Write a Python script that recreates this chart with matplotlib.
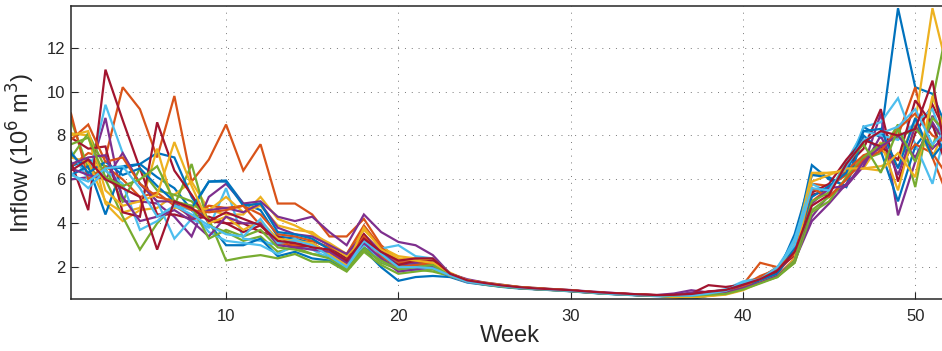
import numpy as np
import matplotlib
matplotlib.use("Agg")
import matplotlib.pyplot as plt

plt.rcParams['font.family'] = ['Liberation Sans', 'DejaVu Sans']

# weekly inflow per year (10^6 m^3)
weeks = np.arange(1, 53)

s01 = [6.6, 6.9, 6.6, 6.5, 6.7, 6.1, 5.6, 4.6, 5.9, 5.95, 4.9, 4.6, 3.4, 3.3, 3.1, 2.6, 2.1, 2.9, 2.4, 1.9,
       2.0, 2.0, 1.6, 1.35, 1.22, 1.12, 1.05, 1.0, 0.97, 0.92, 0.86, 0.8, 0.77, 0.72, 0.7, 0.68, 0.62, 0.82, 0.88, 1.15,
       1.35, 1.75, 3.0, 6.65, 6.0, 5.7, 8.4, 7.9, 13.8, 10.2, 9.9, 8.0]
s02 = [6.6, 7.2, 7.0, 10.2, 9.2, 7.0, 9.8, 5.9, 6.9, 8.5, 6.4, 7.6, 4.9, 4.9, 4.4, 3.4, 3.4, 4.2, 3.0, 2.3,
       2.3, 2.3, 1.7, 1.4, 1.28, 1.18, 1.1, 1.03, 0.99, 0.95, 0.88, 0.82, 0.79, 0.75, 0.72, 0.7, 0.72, 0.78, 0.88, 1.2,
       2.2, 2.0, 2.5, 5.8, 5.7, 6.2, 7.0, 7.6, 8.0, 10.2, 7.0, 5.0]
s03 = [8.1, 8.0, 4.9, 4.1, 4.6, 4.7, 5.3, 5.9, 4.6, 4.4, 4.4, 5.2, 4.2, 3.9, 3.5, 3.1, 2.6, 3.7, 2.9, 2.5,
       2.4, 2.3, 1.75, 1.4, 1.3, 1.2, 1.1, 1.05, 1.0, 0.95, 0.88, 0.82, 0.78, 0.75, 0.7, 0.62, 0.6, 0.7, 0.78, 0.98,
       1.4, 1.9, 2.9, 6.2, 6.3, 6.3, 6.5, 6.6, 6.9, 8.6, 13.8, 10.6]
s04 = [6.0, 6.1, 8.8, 5.0, 5.0, 4.9, 4.3, 3.4, 5.2, 5.8, 4.9, 5.0, 4.3, 4.1, 4.3, 3.6, 3.0, 4.4, 3.6, 3.15,
       3.0, 2.55, 1.7, 1.45, 1.3, 1.2, 1.1, 1.05, 1.0, 0.96, 0.9, 0.85, 0.8, 0.76, 0.73, 0.8, 0.95, 0.85, 0.88, 1.05,
       1.3, 1.6, 2.4, 4.3, 5.3, 5.7, 6.6, 9.0, 4.36, 6.8, 8.9, 7.6]
s05 = [8.7, 6.5, 6.0, 4.3, 2.8, 4.0, 4.8, 6.7, 3.9, 3.6, 3.2, 3.4, 2.7, 2.9, 2.6, 2.5, 2.0, 2.9, 2.2, 1.9,
       1.9, 1.8, 1.6, 1.35, 1.2, 1.12, 1.05, 1.0, 0.96, 0.92, 0.86, 0.8, 0.77, 0.73, 0.7, 0.7, 0.72, 0.8, 0.82, 1.05,
       1.3, 1.6, 2.2, 4.6, 5.2, 6.0, 6.9, 7.2, 8.5, 5.65, 9.6, 13.5]
s06 = [7.3, 6.0, 9.4, 7.2, 5.8, 5.0, 3.3, 4.2, 3.8, 5.6, 3.3, 3.2, 3.0, 3.3, 2.9, 2.6, 2.2, 3.0, 2.85, 3.0,
       2.5, 2.4, 1.7, 1.4, 1.25, 1.15, 1.07, 1.02, 0.97, 0.93, 0.87, 0.81, 0.77, 0.73, 0.71, 0.7, 0.75, 0.85, 1.0, 1.35,
       1.5, 2.0, 3.2, 5.5, 5.6, 6.4, 8.4, 8.6, 9.7, 7.6, 5.8, 9.0]
s07 = [6.8, 4.6, 11.0, 8.7, 6.5, 4.4, 4.4, 4.2, 4.3, 4.0, 4.0, 3.6, 3.4, 3.0, 3.2, 2.9, 2.4, 3.3, 2.6, 2.2,
       2.2, 2.3, 1.65, 1.38, 1.26, 1.16, 1.08, 1.03, 0.98, 0.93, 0.87, 0.82, 0.78, 0.75, 0.72, 0.74, 0.8, 1.18, 1.1, 1.2,
       1.5, 1.9, 2.6, 5.3, 5.5, 6.6, 7.4, 9.2, 5.9, 8.1, 9.4, 7.8]
s08 = [6.2, 6.6, 4.4, 6.6, 6.7, 7.2, 7.0, 5.2, 4.0, 3.0, 3.0, 3.3, 2.5, 2.7, 2.4, 2.3, 1.85, 2.8, 2.0, 1.38,
       1.55, 1.6, 1.55, 1.3, 1.2, 1.1, 1.03, 0.99, 0.95, 0.9, 0.84, 0.79, 0.75, 0.71, 0.68, 0.65, 0.55, 0.7, 0.8, 1.0,
       1.3, 1.7, 3.5, 6.2, 6.1, 5.65, 8.0, 7.3, 5.0, 7.5, 8.5, 6.5]
s09 = [9.0, 6.0, 6.6, 6.0, 5.2, 5.4, 4.8, 4.3, 4.8, 4.7, 4.8, 4.4, 3.5, 3.4, 3.2, 2.9, 2.6, 3.9, 2.9, 2.2,
       2.2, 2.1, 1.7, 1.4, 1.27, 1.17, 1.09, 1.03, 0.98, 0.94, 0.88, 0.82, 0.79, 0.75, 0.73, 0.72, 0.75, 0.82, 0.9, 1.15,
       1.6, 1.9, 2.8, 5.0, 5.6, 6.4, 7.1, 7.4, 6.6, 7.6, 7.2, 6.0]
s10 = [7.0, 6.8, 5.0, 4.5, 4.7, 7.4, 4.7, 4.8, 4.6, 5.2, 4.5, 4.8, 3.9, 3.7, 3.6, 3.0, 2.5, 3.5, 2.7, 2.1,
       2.1, 2.2, 1.65, 1.4, 1.27, 1.17, 1.08, 1.02, 0.98, 0.93, 0.87, 0.81, 0.77, 0.74, 0.7, 0.67, 0.64, 0.7, 0.77, 1.0,
       1.5, 1.8, 3.0, 6.3, 6.3, 6.4, 6.5, 7.7, 5.5, 8.5, 7.0, 8.8]
s11 = [6.5, 6.2, 6.0, 7.2, 5.8, 5.0, 5.0, 4.2, 4.6, 4.7, 4.5, 4.9, 3.8, 3.5, 3.4, 3.0, 2.6, 3.5, 2.7, 2.1,
       2.2, 2.0, 1.6, 1.35, 1.24, 1.14, 1.07, 1.01, 0.97, 0.92, 0.86, 0.8, 0.76, 0.73, 0.7, 0.72, 0.85, 0.78, 0.85, 1.1,
       1.4, 1.7, 2.3, 4.1, 4.9, 5.8, 6.6, 8.0, 6.2, 8.4, 7.4, 8.2]
s12 = [7.0, 8.1, 6.5, 5.0, 6.5, 5.5, 5.3, 5.0, 4.2, 2.3, 2.45, 2.55, 2.4, 2.6, 2.25, 2.25, 1.8, 2.7, 2.1, 1.7,
       1.8, 1.9, 1.6, 1.33, 1.22, 1.13, 1.05, 1.0, 0.95, 0.91, 0.85, 0.8, 0.76, 0.72, 0.7, 0.68, 0.68, 0.75, 0.8, 1.0,
       1.3, 1.55, 2.2, 4.5, 5.0, 6.1, 7.0, 7.6, 7.9, 8.3, 7.5, 9.8]
s13 = [6.3, 5.6, 6.4, 5.8, 3.7, 4.1, 4.8, 4.6, 3.6, 3.2, 3.1, 3.0, 2.6, 3.0, 2.8, 2.4, 2.0, 3.1, 2.3, 1.9,
       1.9, 2.0, 1.6, 1.32, 1.21, 1.12, 1.05, 1.0, 0.96, 0.91, 0.85, 0.79, 0.76, 0.72, 0.7, 0.7, 0.72, 0.78, 0.92, 1.3,
       1.4, 1.85, 3.3, 5.8, 5.4, 6.8, 8.2, 8.0, 7.8, 8.6, 9.2, 7.0]
s14 = [7.9, 7.4, 7.5, 4.5, 4.3, 8.6, 6.4, 5.3, 4.1, 4.0, 3.6, 3.9, 3.2, 2.9, 3.0, 2.6, 2.2, 3.5, 2.5, 2.1,
       2.3, 2.2, 1.7, 1.38, 1.26, 1.16, 1.08, 1.02, 0.98, 0.94, 0.88, 0.82, 0.79, 0.75, 0.72, 0.72, 0.75, 0.9, 0.95, 1.1,
       1.45, 1.8, 2.6, 5.4, 5.8, 6.9, 7.8, 7.5, 6.9, 9.6, 8.5, 6.2]
s15 = [7.2, 6.3, 6.8, 6.2, 6.5, 5.7, 5.0, 4.7, 5.9, 5.9, 4.8, 4.9, 3.6, 3.5, 3.3, 2.8, 2.3, 3.2, 2.6, 2.0,
       2.1, 2.2, 1.65, 1.36, 1.25, 1.15, 1.07, 1.01, 0.97, 0.92, 0.86, 0.8, 0.76, 0.73, 0.7, 0.7, 0.66, 0.76, 0.85, 1.1,
       1.4, 1.7, 2.9, 5.2, 5.7, 6.3, 8.2, 8.3, 6.5, 8.8, 7.0, 8.0]
s16 = [7.8, 8.5, 6.8, 7.0, 5.8, 5.2, 5.0, 4.6, 4.5, 4.6, 4.8, 3.9, 3.1, 3.0, 3.0, 2.7, 2.3, 3.4, 2.5, 2.0,
       2.1, 2.2, 1.7, 1.4, 1.27, 1.16, 1.08, 1.02, 0.98, 0.93, 0.87, 0.82, 0.78, 0.74, 0.71, 0.68, 0.66, 0.72, 0.83, 1.1,
       1.5, 2.0, 2.6, 5.6, 5.2, 6.0, 6.9, 7.3, 8.3, 9.0, 8.0, 7.6]
s17 = [8.0, 8.2, 5.5, 4.8, 5.0, 5.3, 7.7, 5.7, 4.0, 4.3, 3.7, 4.1, 3.3, 3.2, 3.1, 2.6, 2.1, 3.8, 2.8, 2.4,
       2.3, 2.2, 1.7, 1.4, 1.28, 1.18, 1.09, 1.03, 0.98, 0.94, 0.88, 0.82, 0.78, 0.74, 0.71, 0.64, 0.62, 0.68, 0.75, 0.95,
       1.3, 1.6, 2.4, 5.9, 6.2, 6.5, 6.5, 6.4, 7.2, 6.1, 9.8, 7.5]
s18 = [6.7, 7.0, 7.1, 5.2, 4.1, 4.3, 4.6, 4.1, 3.4, 4.3, 4.0, 4.0, 3.0, 2.9, 2.8, 2.7, 2.2, 3.1, 2.4, 1.8,
       1.9, 2.0, 1.6, 1.33, 1.22, 1.13, 1.05, 1.0, 0.96, 0.91, 0.85, 0.8, 0.76, 0.72, 0.7, 0.7, 0.73, 0.78, 0.83, 1.05,
       1.3, 1.6, 2.3, 4.9, 5.6, 5.7, 6.8, 7.5, 8.0, 7.0, 8.6, 7.3]
s19 = [7.6, 7.9, 6.1, 5.7, 6.0, 6.6, 5.0, 4.8, 3.3, 3.7, 3.4, 3.7, 2.9, 2.8, 2.6, 2.4, 1.9, 2.8, 2.3, 1.9,
       2.0, 2.1, 1.6, 1.35, 1.22, 1.12, 1.05, 1.0, 0.96, 0.91, 0.85, 0.79, 0.76, 0.72, 0.7, 0.69, 0.7, 0.74, 0.78, 0.98,
       1.26, 1.55, 2.3, 5.0, 5.4, 6.7, 7.6, 6.3, 8.3, 6.8, 8.8, 8.0]
s20 = [6.2, 5.9, 6.5, 6.6, 5.6, 4.3, 4.8, 4.4, 3.9, 3.5, 3.4, 4.2, 3.1, 3.2, 3.0, 2.5, 2.0, 3.2, 2.6, 2.0,
       2.0, 1.95, 1.62, 1.34, 1.23, 1.14, 1.06, 1.01, 0.96, 0.92, 0.86, 0.8, 0.76, 0.73, 0.7, 0.71, 0.7, 0.8, 0.92, 1.3,
       1.45, 2.0, 3.0, 5.6, 5.5, 6.6, 7.8, 8.1, 8.4, 9.2, 7.6, 8.4]
s21 = [6.4, 6.9, 6.0, 5.6, 5.2, 2.8, 5.0, 4.7, 4.1, 4.5, 4.2, 3.9, 3.2, 3.1, 2.9, 2.8, 2.3, 3.3, 2.7, 2.3,
       2.4, 2.4, 1.7, 1.4, 1.28, 1.17, 1.09, 1.03, 0.99, 0.95, 0.89, 0.84, 0.8, 0.76, 0.73, 0.74, 0.78, 0.88, 0.96, 1.2,
       1.45, 1.85, 2.7, 4.8, 5.3, 6.7, 7.7, 8.2, 8.0, 8.3, 10.5, 6.2]

series = [s01, s02, s03, s04, s05, s06, s07, s08, s09, s10, s11,
          s12, s13, s14, s15, s16, s17, s18, s19, s20, s21]

# MATLAB default colour order
colors = ['#0072BD', '#D95319', '#EDB120', '#7E2F8E', '#77AC30', '#4DBEEE', '#A2142F']
xticks = [10, 20, 30, 40, 50]
yticks = [2, 4, 6, 8, 10, 12]

fig = plt.figure(figsize=(9.42, 3.51), dpi=100)
# axes runs a little past the right edge, like the cropped original
ax = fig.add_axes([71 / 942, 52 / 351, 878.7 / 942, 293 / 351])

for i, s in enumerate(series):
    ax.plot(weeks, s, color=colors[i % 7], lw=1.6, solid_joinstyle='miter')

ax.set_xlim(1, 52)
ax.set_ylim(0.55, 13.9)
ax.set_xticks(xticks)
ax.set_yticks(yticks)
ax.grid(True, color='#777777', linestyle=(0, (1, 6)), linewidth=0.7)
ax.tick_params(direction='in', length=5, width=0.8, colors='#262626', labelsize=12)
ax.tick_params(axis='y', pad=4)
ax.tick_params(axis='x', pad=7)
for sp in ax.spines.values():
    sp.set_color('#262626')
    sp.set_linewidth(1.1)

ax.set_xlabel('Week', fontsize=17, color='#262626', labelpad=1)
ax.set_ylabel('Inflow (10$^6$ m$^3$)', fontsize=17, color='#262626', labelpad=7)

fig.savefig('out.png', dpi=100)
